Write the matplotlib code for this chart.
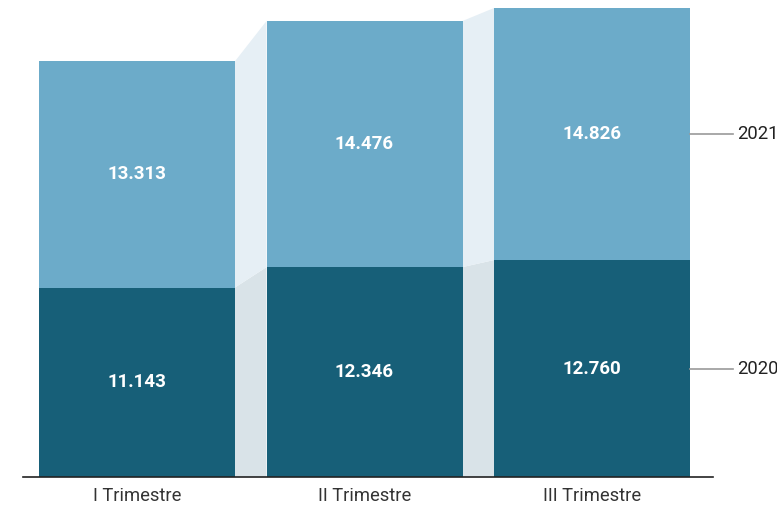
import matplotlib
matplotlib.use("Agg")
from matplotlib import pyplot as plt
import numpy as np

plt.rcParams['font.family'] = ['Roboto', 'DejaVu Sans']

categories = ["I Trimestre", "II Trimestre", "III Trimestre"]
series_names = ["2020", "2021"]
values_2020 = [11143, 12346, 12760]
values_2021 = [13313, 14476, 14826]

col_2020 = "#175f78"
col_2021 = "#6cabc9"
band_2020 = "#d9e3e8"
band_2021 = "#e6eff5"

def fmt(v):
    return f"{v:,}".replace(",", ".")

fig = plt.figure(figsize=(7.77, 5.05), dpi=100)
ax = fig.add_axes([23/777, 28/505, (713-23)/777, (477-8)/505])

x = np.arange(len(categories))
w = 196/227.5
b2020 = np.array(values_2020)
b2021 = np.array(values_2021)
tot = b2020 + b2021

# connecting bands
for i in range(len(x) - 1):
    xr = x[i] + w/2
    xl = x[i+1] - w/2
    ax.fill([xr, xr, xl, xl], [0, b2020[i], b2020[i+1], 0], color=band_2020, lw=0, zorder=1)
    ax.fill([xr, xr, xl, xl], [b2020[i], tot[i], tot[i+1], b2020[i+1]], color=band_2021, lw=0, zorder=1)

ax.bar(x, b2020, w, color=col_2020, zorder=2)
ax.bar(x, b2021, w, bottom=b2020, color=col_2021, zorder=2)

for i in range(len(x)):
    ax.text(x[i], b2020[i]/2, fmt(values_2020[i]), ha="center", va="center",
            color="white", fontsize=13.5, fontweight="bold", zorder=3)
    ax.text(x[i], b2020[i] + b2021[i]/2, fmt(values_2021[i]), ha="center", va="center",
            color="white", fontsize=13.5, fontweight="bold", zorder=3)

# series labels on the right
last = len(x) - 1
xe = x[last] + w/2
for name, yv in [("2020", b2020[last]/2), ("2021", b2020[last] + b2021[last]/2)]:
    ax.plot([xe, xe + 43/227.5], [yv, yv], color="#999999", lw=1.2, clip_on=False, zorder=3)
    ax.text(xe + 47/227.5, yv, name, ha="left", va="center", fontsize=13.3, color="#222222", clip_on=False)

ax.set_xlim((23-137)/227.5, (713-137)/227.5)
ax.set_ylim(0, tot[last])
ax.set_xticks(x)
ax.set_xticklabels(categories, fontsize=13.2, color="#333333")
ax.tick_params(axis="x", length=0, pad=7)
ax.set_yticks([])
for s in ["top", "right", "left"]:
    ax.spines[s].set_visible(False)
ax.spines["bottom"].set_color("#222222")
ax.spines["bottom"].set_linewidth(1.2)
ax.spines["bottom"].set_zorder(4)

fig.savefig("out.png", dpi=100)
